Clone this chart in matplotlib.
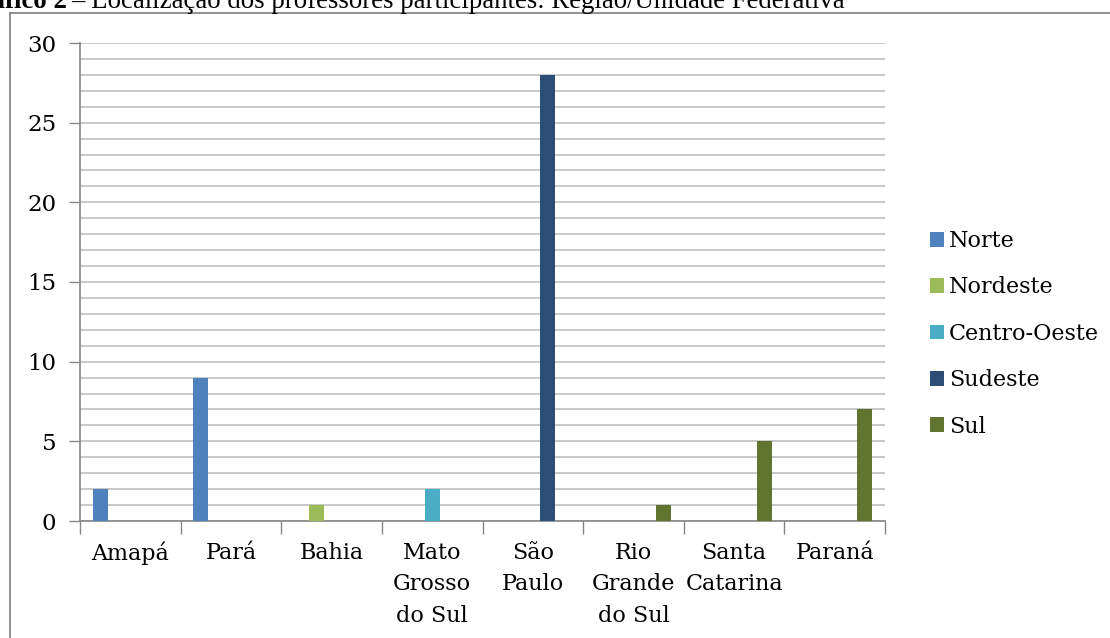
import matplotlib
matplotlib.use("Agg")
import matplotlib.pyplot as plt
import numpy as np
from matplotlib.lines import Line2D
from matplotlib.patches import Patch

W, H = 1110, 638

categories = ["Amapá", "Pará", "Bahia", "Mato\nGrosso\ndo Sul", "São\nPaulo",
              "Rio\nGrande\ndo Sul", "Santa\nCatarina", "Paraná"]
regions = ["Norte", "Nordeste", "Centro-Oeste", "Sudeste", "Sul"]
norte = [2, 9, 0, 0, 0, 0, 0, 0]
nordeste = [0, 0, 1, 0, 0, 0, 0, 0]
centro_oeste = [0, 0, 0, 2, 0, 0, 0, 0]
sudeste = [0, 0, 0, 0, 28, 0, 0, 0]
sul = [0, 0, 0, 0, 0, 1, 5, 7]
series = [norte, nordeste, centro_oeste, sudeste, sul]
colors = ["#4F81BD", "#9BBB59", "#4BACC6", "#2C4D75", "#5F7530"]

FONT = "DejaVu Serif"
plt.rcParams["font.family"] = FONT

fig = plt.figure(figsize=(W / 100, H / 100), dpi=100)
ax = fig.add_axes([80 / W, (H - 521) / H, (885 - 80) / W, (521 - 43) / H])

x = np.arange(len(categories))
bw = 0.15
for i, (vals, c) in enumerate(zip(series, colors)):
    ax.bar(x + (i - 2) * bw, vals, width=bw, color=c, zorder=3)

ax.set_xlim(-0.5, len(categories) - 0.5)
ax.set_ylim(0, 30)

grid_c = "#BFBFBF"
axis_c = "#868686"
ax.set_yticks(np.arange(0, 31, 5))
ax.set_yticks(np.arange(0, 31, 1), minor=True)
ax.yaxis.grid(True, which="both", color=grid_c, linewidth=1.2, zorder=0)
ax.tick_params(axis="y", which="major", length=8, color=axis_c, width=1,
               labelsize=16.5, pad=9)
ax.tick_params(axis="y", which="minor", length=0)

# category boundaries as ticks, labels at the centres
ax.set_xticks(np.arange(-0.5, len(categories), 1))
ax.set_xticklabels([])
ax.set_xticks(x, minor=True)
ax.set_xticklabels(categories, minor=True, fontsize=16, linespacing=1.55)
ax.tick_params(axis="x", which="major", length=9, color=axis_c, width=1)
ax.tick_params(axis="x", which="minor", length=0, pad=15)
for lbl in ax.get_xticklabels(minor=True):
    lbl.set_verticalalignment("top")

for s in ["top", "right"]:
    ax.spines[s].set_visible(False)
for s in ["left", "bottom"]:
    ax.spines[s].set_color(axis_c)
    ax.spines[s].set_linewidth(1.2)

handles = [Patch(facecolor=c, edgecolor="none") for c in colors]
fig.legend(handles, regions, loc="upper left",
           bbox_to_anchor=(921 / W, 1 - 221 / H), frameon=False,
           fontsize=16, handlelength=0.65, handleheight=0.65,
           handletextpad=0.22, labelspacing=1.1, borderaxespad=0)

# outer chart frame (partly cut by the page crop)
fig.add_artist(Line2D([10 / W, 10 / W], [0, 1 - 13 / H], color="#7F7F7F",
                      linewidth=1.2, transform=fig.transFigure))
fig.add_artist(Line2D([10 / W, 1], [1 - 13 / H, 1 - 13 / H], color="#7F7F7F",
                      linewidth=1.2, transform=fig.transFigure))

# caption above, cut at the top edge
fig.text(67 / W, 1 - 8 / H, "Gráfico 2", ha="right", va="baseline",
         fontsize=19.3, fontweight="bold", family="Liberation Serif")
fig.text(71 / W, 1 - 8 / H, "– Localização dos professores participantes: Região/Unidade Federativa",
         ha="left", va="baseline", fontsize=19.3, family="Liberation Serif")

fig.savefig("out.png", dpi=100)
